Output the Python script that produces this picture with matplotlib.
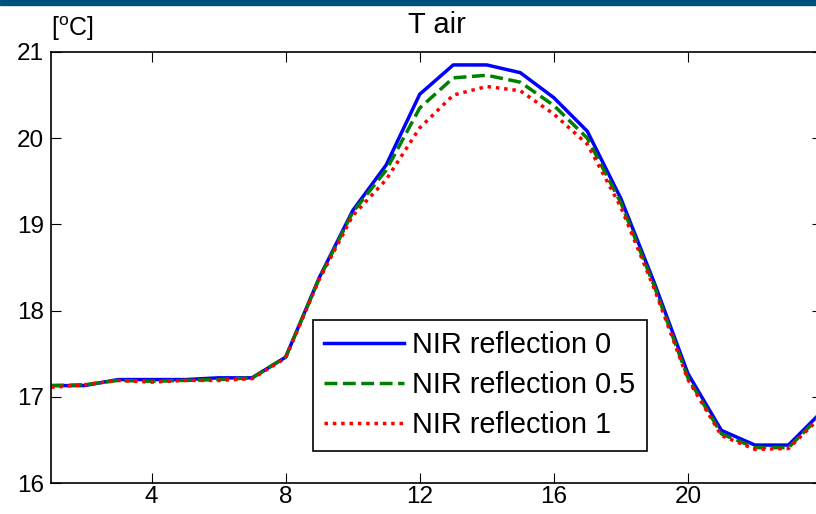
import matplotlib
matplotlib.use("Agg")
import matplotlib.pyplot as plt
from matplotlib.patches import Rectangle

plt.rcParams['font.family'] = ['Liberation Sans', 'DejaVu Sans']
plt.rcParams['mathtext.fontset'] = 'custom'
plt.rcParams['mathtext.rm'] = 'Liberation Sans'

hours = list(range(1, 25))
nir_0 = [17.13, 17.13, 17.20, 17.20, 17.20, 17.22, 17.22, 17.46, 18.38, 19.16, 19.69, 20.51,
         20.85, 20.85, 20.76, 20.47, 20.08, 19.30, 18.32, 17.27, 16.61, 16.44, 16.44, 16.83]
nir_05 = [17.13, 17.14, 17.19, 17.18, 17.19, 17.20, 17.22, 17.46, 18.37, 19.14, 19.63, 20.35,
          20.70, 20.73, 20.65, 20.38, 20.00, 19.25, 18.28, 17.22, 16.57, 16.41, 16.41, 16.80]
nir_1 = [17.11, 17.14, 17.19, 17.17, 17.19, 17.19, 17.21, 17.45, 18.36, 19.10, 19.52, 20.12,
         20.50, 20.60, 20.55, 20.28, 19.93, 19.20, 18.25, 17.20, 16.55, 16.39, 16.40, 16.78]
labels = ['NIR reflection 0', 'NIR reflection 0.5', 'NIR reflection 1']
xticks = [4, 8, 12, 16, 20]
yticks = [16, 17, 18, 19, 20, 21]

W, H = 816, 514
fig = plt.figure(figsize=(W / 100, H / 100), dpi=100)
fig.patches.append(Rectangle((0, 1 - 5 / H), 1, 5 / H, transform=fig.transFigure,
                             color='#00507f', zorder=0))

left, right, top, bottom = 51, 822, 52, 483
ax = fig.add_axes([left / W, 1 - bottom / H, (right - left) / W, (bottom - top) / H])

ax.plot(hours, nir_0, color='#0000ff', lw=2.5, label=labels[0])
ax.plot(hours, nir_05, color='#008000', lw=2.5, ls=(0, (3.7, 1.6)), label=labels[1])
ax.plot(hours, nir_1, color='#ff0000', lw=2.5, ls=(0, (1, 1.4)), label=labels[2])

ax.set_xlim(1, 24)
ax.set_ylim(16, 21)
ax.set_xticks(xticks)
ax.set_yticks(yticks)
ax.tick_params(direction='in', length=7, width=0.8, top=True, right=True,
               labelsize=17.5)
ax.tick_params(axis='x', pad=2.5)
ax.tick_params(axis='y', pad=5)
for s in ax.spines.values():
    s.set_linewidth(1.2)

ax.set_title('T air', fontsize=21, pad=14)
ax.text(0, 1.02, r'[$^{\mathrm{o}}$C]', transform=ax.transAxes, fontsize=18,
        ha='left', va='bottom')

leg = ax.legend(loc='lower right', bbox_to_anchor=((647 - left) / (right - left),
                (bottom - 451) / (bottom - top)), borderaxespad=0, fontsize=20.8,
                handlelength=2.75, handletextpad=0.3, labelspacing=0.42,
                borderpad=0.4, fancybox=False, framealpha=1, edgecolor='black')
leg.get_frame().set_linewidth(1.2)

fig.savefig('out.png', dpi=100)
